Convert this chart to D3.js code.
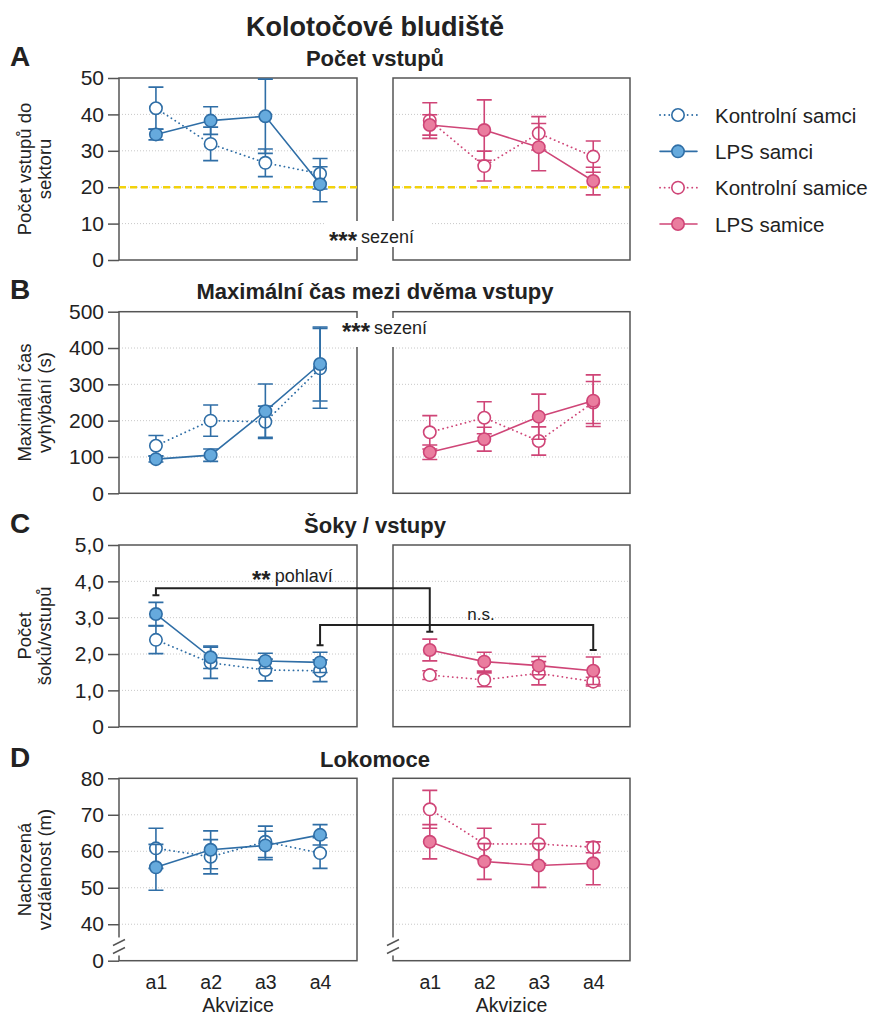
<!DOCTYPE html>
<html>
<head>
<meta charset="utf-8">
<script src="https://cdn.jsdelivr.net/npm/d3@7"></script>
<style>
  body { margin: 0; background: #fff; }
  text { font-family: "Liberation Sans", Arial, sans-serif; fill: #222; }
</style>
</head>
<body>
<div id="chart"></div>
<script>
const sessions = ['a1', 'a2', 'a3', 'a4']
const legendLabels = ['Kontrolní samci', 'LPS samci', 'Kontrolní samice', 'LPS samice']

// [průměr, SEM] pro a1..a4
const entriesCtrlM = [[41.7, 5.8], [31.9, 4.6], [26.7, 3.8], [23.7, 4.2]]
const entriesLpsM = [[34.5, 1.5], [38.3, 3.8], [39.5, 10.2], [20.8, 4.8]]
const entriesCtrlF = [[38.3, 4.9], [25.8, 4.1], [34.8, 4.6], [28.4, 4.3]]
const entriesLpsF = [[37.1, 2.8], [35.7, 8.3], [31.0, 6.5], [21.7, 3.8]]

const maxTimeCtrlM = [[131, 28], [200, 43], [197, 43], [344, 110]]
const maxTimeLpsM = [[94, 8], [105, 17], [226, 75], [356, 102]]
const maxTimeCtrlF = [[168, 46], [208, 44], [144, 39], [250, 58]]
const maxTimeLpsF = [[113, 20], [149, 33], [211, 62], [255, 71]]

const shocksCtrlM = [[2.39, 0.38], [1.76, 0.43], [1.56, 0.30], [1.54, 0.30]]
const shocksLpsM = [[3.10, 0.32], [1.91, 0.31], [1.81, 0.21], [1.77, 0.28]]
const shocksCtrlF = [[1.42, 0.12], [1.29, 0.19], [1.47, 0.32], [1.24, 0.12]]
const shocksLpsF = [[2.11, 0.30], [1.79, 0.26], [1.68, 0.25], [1.54, 0.38]]

const distCtrlM = [[60.8, 5.5], [58.5, 4.7], [62.6, 4.3], [59.5, 4.2]]
const distLpsM = [[55.6, 6.3], [60.4, 5.2], [61.6, 3.9], [64.5, 2.8]]
const distCtrlF = [[71.5, 5.2], [62.0, 4.3], [62.0, 5.4], [61.1, 1.5]]
const distLpsF = [[62.6, 4.7], [57.2, 4.9], [56.1, 6.0], [56.7, 5.9]]

const entriesTicks = [0, 10, 20, 30, 40, 50]
const maxTimeTicks = [0, 100, 200, 300, 400, 500]
const shocksTicks = [0, 1, 2, 3, 4, 5]
const distTicks = [30, 40, 50, 60, 70, 80] // 30 = zlom osy, popisek "0"
const chanceLevel = 20

// závorky v panelu C: y hodnoty [horní linka, levý konec, pravý konec]
const sexBracket = { from: 'a1', to: 'a1', y: [3.81, 3.62, 2.61] }
const nsBracket = { from: 'a4', to: 'a4', y: [2.80, 2.24, 2.11] }

const width = 869
const height = 1018
const leftRange = [119, 357]
const rightRange = [393, 630]

const blue = { stroke: '#2f6ea6', fill: '#66aadd' }
const pink = { stroke: '#cf4577', fill: '#ea7d9f' }

const svg = d3.select('#chart').append('svg')
  .attr('width', width)
  .attr('height', height)

svg.append('text')
  .attr('x', 375).attr('y', 36)
  .attr('text-anchor', 'middle')
  .attr('font-size', 27).attr('font-weight', 'bold')
  .text('Kolotočové bludiště')

const rows = [
  {
    letter: 'A', title: 'Počet vstupů', titleY: 66, top: 78, bottom: 260,
    domain: [0, 50], ticks: entriesTicks, fmt: d3.format('d'),
    ylabel: ['Počet vstupů do', 'sektoru'],
    males: [entriesCtrlM, entriesLpsM], females: [entriesCtrlF, entriesLpsF]
  },
  {
    letter: 'B', title: 'Maximální čas mezi dvěma vstupy', titleY: 299, top: 311.7, bottom: 493.3,
    domain: [0, 500], ticks: maxTimeTicks, fmt: d3.format('d'),
    ylabel: ['Maximální čas', 'vyhýbání (s)'],
    males: [maxTimeCtrlM, maxTimeLpsM], females: [maxTimeCtrlF, maxTimeLpsF]
  },
  {
    letter: 'C', title: 'Šoky / vstupy', titleY: 533, top: 545, bottom: 726.7,
    domain: [0, 5], ticks: shocksTicks, fmt: d => d === 0 ? '0' : d.toFixed(1).replace('.', ','),
    ylabel: ['Počet', 'šoků/vstupů'],
    males: [shocksCtrlM, shocksLpsM], females: [shocksCtrlF, shocksLpsF]
  },
  {
    letter: 'D', title: 'Lokomoce', titleY: 767, top: 778.3, bottom: 960.7,
    domain: [30, 80], ticks: distTicks, fmt: d => d === 30 ? '0' : d,
    ylabel: ['Nachozená', 'vzdálenost (m)'],
    males: [distCtrlM, distLpsM], females: [distCtrlF, distLpsF],
    broken: true, xAxis: true
  }
]

rows.forEach(row => {
  const y = d3.scaleLinear().domain(row.domain).range([row.bottom, row.top])
  const xL = d3.scalePoint().domain(sessions).range(leftRange).padding(0.675)
  const xR = d3.scalePoint().domain(sessions).range(rightRange).padding(0.675)
  row.y = y; row.xL = xL; row.xR = xR

  svg.append('text')
    .attr('x', 10).attr('y', row.titleY)
    .attr('font-size', 28).attr('font-weight', 'bold')
    .text(row.letter)

  svg.append('text')
    .attr('x', 375).attr('y', row.titleY)
    .attr('text-anchor', 'middle')
    .attr('font-size', 22).attr('font-weight', 'bold')
    .text(row.title)

  // popisek osy y
  const midY = (row.top + row.bottom) / 2
  row.ylabel.forEach((line, i) => {
    svg.append('text')
      .attr('transform', `translate(${24 + i * 20},${midY}) rotate(-90)`)
      .attr('text-anchor', 'middle')
      .attr('dominant-baseline', 'central')
      .attr('font-size', 18.5)
      .text(line)
  })

  const sides = [
    { x: xL, range: leftRange, data: row.males, color: blue },
    { x: xR, range: rightRange, data: row.females, color: pink }
  ]

  sides.forEach(side => {
    const g = svg.append('g')
    // mřížka
    g.selectAll('.grid')
      .data(row.ticks.slice(1, -1))
      .join('line')
      .attr('x1', side.range[0]).attr('x2', side.range[1])
      .attr('y1', d => y(d)).attr('y2', d => y(d))
      .attr('stroke', '#c8c8c8')
      .attr('stroke-width', 1)
      .attr('stroke-dasharray', '1,2')

    g.append('rect')
      .attr('x', side.range[0]).attr('y', row.top)
      .attr('width', side.range[1] - side.range[0])
      .attr('height', row.bottom - row.top)
      .attr('fill', 'none')
      .attr('stroke', '#555')
      .attr('stroke-width', 1.5)

    if (row.letter === 'A') {
      g.append('line')
        .attr('x1', side.range[0]).attr('x2', side.range[1])
        .attr('y1', y(chanceLevel)).attr('y2', y(chanceLevel))
        .attr('stroke', '#f2d20c')
        .attr('stroke-width', 2.5)
        .attr('stroke-dasharray', '7,4')
    }

    if (row.broken) {
      const yb = (y(30) + y(40)) / 2 + 4
      g.append('rect')
        .attr('x', side.range[0] - 3).attr('y', yb - 9)
        .attr('width', 6).attr('height', 18)
        .attr('fill', '#fff')
      ;[-4, 4].forEach(o => {
        g.append('line')
          .attr('x1', side.range[0] - 6).attr('y1', yb + o + 3)
          .attr('x2', side.range[0] + 6).attr('y2', yb + o - 3)
          .attr('stroke', '#555').attr('stroke-width', 1.5)
      })
    }

    side.data.forEach((series, si) => {
      const isCtrl = si === 0
      const pts = series.map((d, i) => ({ s: sessions[i], m: d[0], e: d[1] }))
      const sg = g.append('g')

      sg.selectAll('.err')
        .data(pts)
        .join('path')
        .attr('d', d => {
          const cx = side.x(d.s)
          const y1 = y(d.m + d.e)
          const y0 = y(d.m - d.e)
          return `M${cx},${y0}V${y1}M${cx - 7.5},${y1}H${cx + 7.5}M${cx - 7.5},${y0}H${cx + 7.5}`
        })
        .attr('fill', 'none')
        .attr('stroke', side.color.stroke)
        .attr('stroke-width', 1.6)

      sg.append('path')
        .datum(pts)
        .attr('d', d3.line().x(d => side.x(d.s)).y(d => y(d.m)))
        .attr('fill', 'none')
        .attr('stroke', side.color.stroke)
        .attr('stroke-width', isCtrl ? 1.8 : 1.6)
        .attr('stroke-linecap', 'round')
        .attr('stroke-dasharray', isCtrl ? '0.1,4.5' : null)

      sg.selectAll('circle')
        .data(pts)
        .join('circle')
        .attr('cx', d => side.x(d.s))
        .attr('cy', d => y(d.m))
        .attr('r', 6.2)
        .attr('fill', isCtrl ? '#fff' : side.color.fill)
        .attr('stroke', side.color.stroke)
        .attr('stroke-width', 1.6)
    })

    if (row.xAxis) {
      const ax = svg.append('g')
        .attr('transform', `translate(0,${row.bottom})`)
        .call(d3.axisBottom(side.x).tickSize(0).tickPadding(14))
      ax.select('.domain').remove()
      ax.selectAll('text').attr('font-size', 19.5).attr('fill', '#222')
        .attr('font-family', '"Liberation Sans", Arial, sans-serif')
      svg.append('text')
        .attr('x', (side.range[0] + side.range[1]) / 2)
        .attr('y', 1012)
        .attr('text-anchor', 'middle')
        .attr('font-size', 19.5)
        .text('Akvizice')
    }
  })

  // osa y pouze vlevo
  const ay = svg.append('g')
    .attr('transform', `translate(${leftRange[0]},0)`)
    .call(d3.axisLeft(y).tickValues(row.ticks).tickSize(11).tickPadding(4).tickFormat(row.fmt))
  ay.select('.domain').remove()
  ay.selectAll('line').attr('stroke', '#555').attr('stroke-width', 1.5)
  ay.selectAll('text').attr('font-size', 21).attr('fill', '#222')
    .attr('font-family', '"Liberation Sans", Arial, sans-serif')
})

// anotace "*** sezení"
function sessionNote (bx, by, bw, bh, tx, ty) {
  svg.append('rect')
    .attr('x', bx).attr('y', by).attr('width', bw).attr('height', bh)
    .attr('fill', '#fff')
  const t = svg.append('text').attr('x', tx).attr('y', ty).attr('font-size', 18)
  t.append('tspan').attr('font-size', 24).attr('dy', 6).attr('font-weight', 'bold').text('***')
  t.append('tspan').attr('dy', -6).attr('dx', 4).text('sezení')
}
sessionNote(324, 221, 108, 26, 329, 243)
sessionNote(338, 318, 100, 29, 342, 334)

// závorky v panelu C
const rc = rows[2]
function bracket (b) {
  const xa = rc.xL(b.from)
  const xb = rc.xR(b.to)
  const [yt, ya, yb] = b.y.map(rc.y)
  svg.append('path')
    .attr('d', `M${xa},${ya}V${yt}H${xb}V${yb}M${xa - 3.5},${ya}H${xa + 3.5}M${xb - 3.5},${yb}H${xb + 3.5}`)
    .attr('fill', 'none')
    .attr('stroke', '#222')
    .attr('stroke-width', 2)
}
bracket(sexBracket)
bracket(nsBracket)

const sexText = svg.append('text').attr('x', 252).attr('y', 582).attr('font-size', 18)
sexText.append('tspan').attr('font-size', 24).attr('dy', 6).attr('font-weight', 'bold').text('**')
sexText.append('tspan').attr('dy', -6).attr('dx', 4).text('pohlaví')

svg.append('text')
  .attr('x', 481).attr('y', 620)
  .attr('text-anchor', 'middle')
  .attr('font-size', 17)
  .text('n.s.')

// legenda
const legend = svg.append('g')
const legendItems = [
  { c: blue, ctrl: true }, { c: blue, ctrl: false },
  { c: pink, ctrl: true }, { c: pink, ctrl: false }
]
const legendY = d3.scalePoint().domain(legendLabels).range([115, 224])
legendItems.forEach((it, i) => {
  const ly = legendY(legendLabels[i])
  legend.append('line')
    .attr('x1', 660).attr('x2', 697)
    .attr('y1', ly).attr('y2', ly)
    .attr('stroke', it.c.stroke)
    .attr('stroke-width', it.ctrl ? 1.8 : 1.6)
    .attr('stroke-linecap', 'round')
    .attr('stroke-dasharray', it.ctrl ? '0.1,4.5' : null)
  legend.append('circle')
    .attr('cx', 678).attr('cy', ly).attr('r', 6.2)
    .attr('fill', it.ctrl ? '#fff' : it.c.fill)
    .attr('stroke', it.c.stroke)
    .attr('stroke-width', 1.6)
  legend.append('text')
    .attr('x', 715).attr('y', ly)
    .attr('dominant-baseline', 'central')
    .attr('font-size', 20.5)
    .text(legendLabels[i])
})
</script>
</body>
</html>
